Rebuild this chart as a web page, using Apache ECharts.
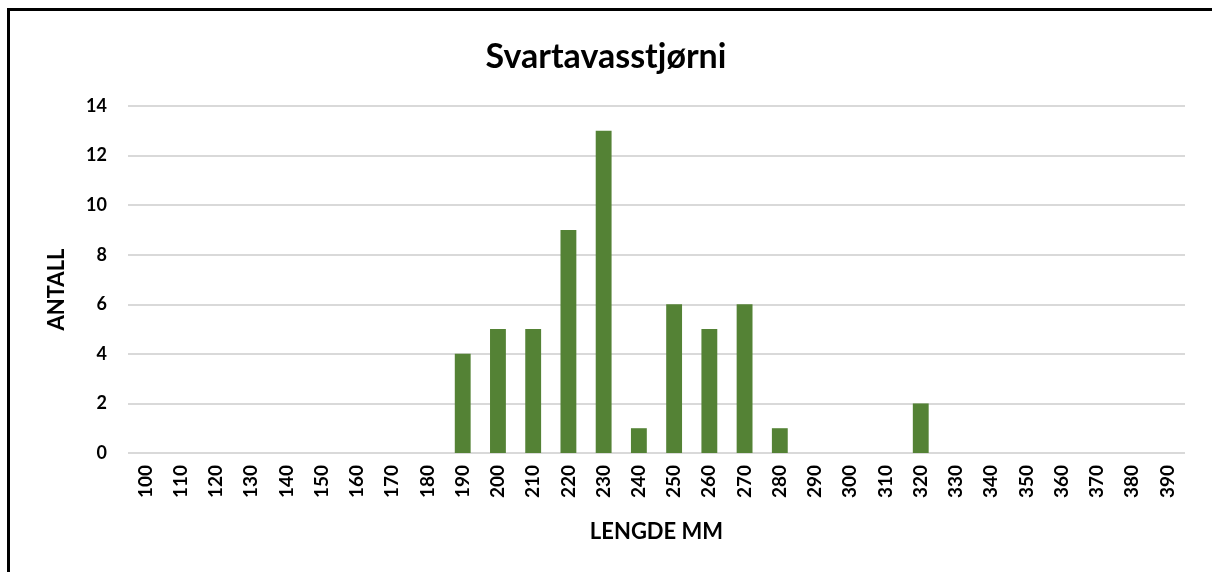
<!DOCTYPE html>
<html><head><meta charset="utf-8">
<script src="https://cdn.jsdelivr.net/npm/echarts@6/dist/echarts.min.js"></script>
<style>html,body{margin:0;padding:0;background:#fff}#c{width:1212px;height:572px}</style>
</head><body><div id="c"></div>
<script>
const categories = ['100','110','120','130','140','150','160','170','180','190','200','210','220','230','240','250','260','270','280','290','300','310','320','330','340','350','360','370','380','390'];
const counts = [0,0,0,0,0,0,0,0,0,4,5,5,9,13,1,6,5,6,1,0,0,0,2,0,0,0,0,0,0,0];
const yTicks = [0,2,4,6,8,10,12,14];
const chart = echarts.init(document.getElementById('c'));
const font = 'Lato, "Open Sans", sans-serif';
chart.setOption({
  animation:false,
  backgroundColor:'#fff',
  title:{text:'Svartavasstjørni',left:'center',top:35,textStyle:{fontFamily:font,fontSize:34,fontWeight:'bold',color:'#000'}},
  grid:{left:128,right:27,top:106,bottom:119},
  xAxis:{type:'category',data:categories,
    name:'LENGDE MM',nameLocation:'middle',nameGap:68,
    nameTextStyle:{fontFamily:font,fontSize:22,fontWeight:'bold',color:'#000'},
    axisLine:{show:false},axisTick:{show:false},
    axisLabel:{rotate:90,fontFamily:font,fontSize:19,fontWeight:'bold',color:'#000',margin:12}},
  yAxis:{type:'value',min:0,max:14,interval:2,
    name:'ANTALL',nameLocation:'middle',nameGap:60,
    nameTextStyle:{fontFamily:font,fontSize:22,fontWeight:'bold',color:'#000',padding:[0,20,0,0]},
    axisLine:{show:false},axisTick:{show:false},
    axisLabel:{fontFamily:font,fontSize:18,fontWeight:'bold',color:'#000',margin:21,formatter:v=>yTicks.includes(v)?String(v):''},
    splitLine:{lineStyle:{color:'#d9d9d9',width:2}}},
  series:[{type:'bar',data:counts,barWidth:'45%',itemStyle:{color:'#548235'}}],
  graphic:[
    {type:'line',shape:{x1:8.5,y1:9.5,x2:8.5,y2:572},style:{stroke:'#000',lineWidth:3}},
    {type:'line',shape:{x1:7,y1:9.5,x2:1212,y2:9.5},style:{stroke:'#000',lineWidth:3}}
  ]
});
</script></body></html>
